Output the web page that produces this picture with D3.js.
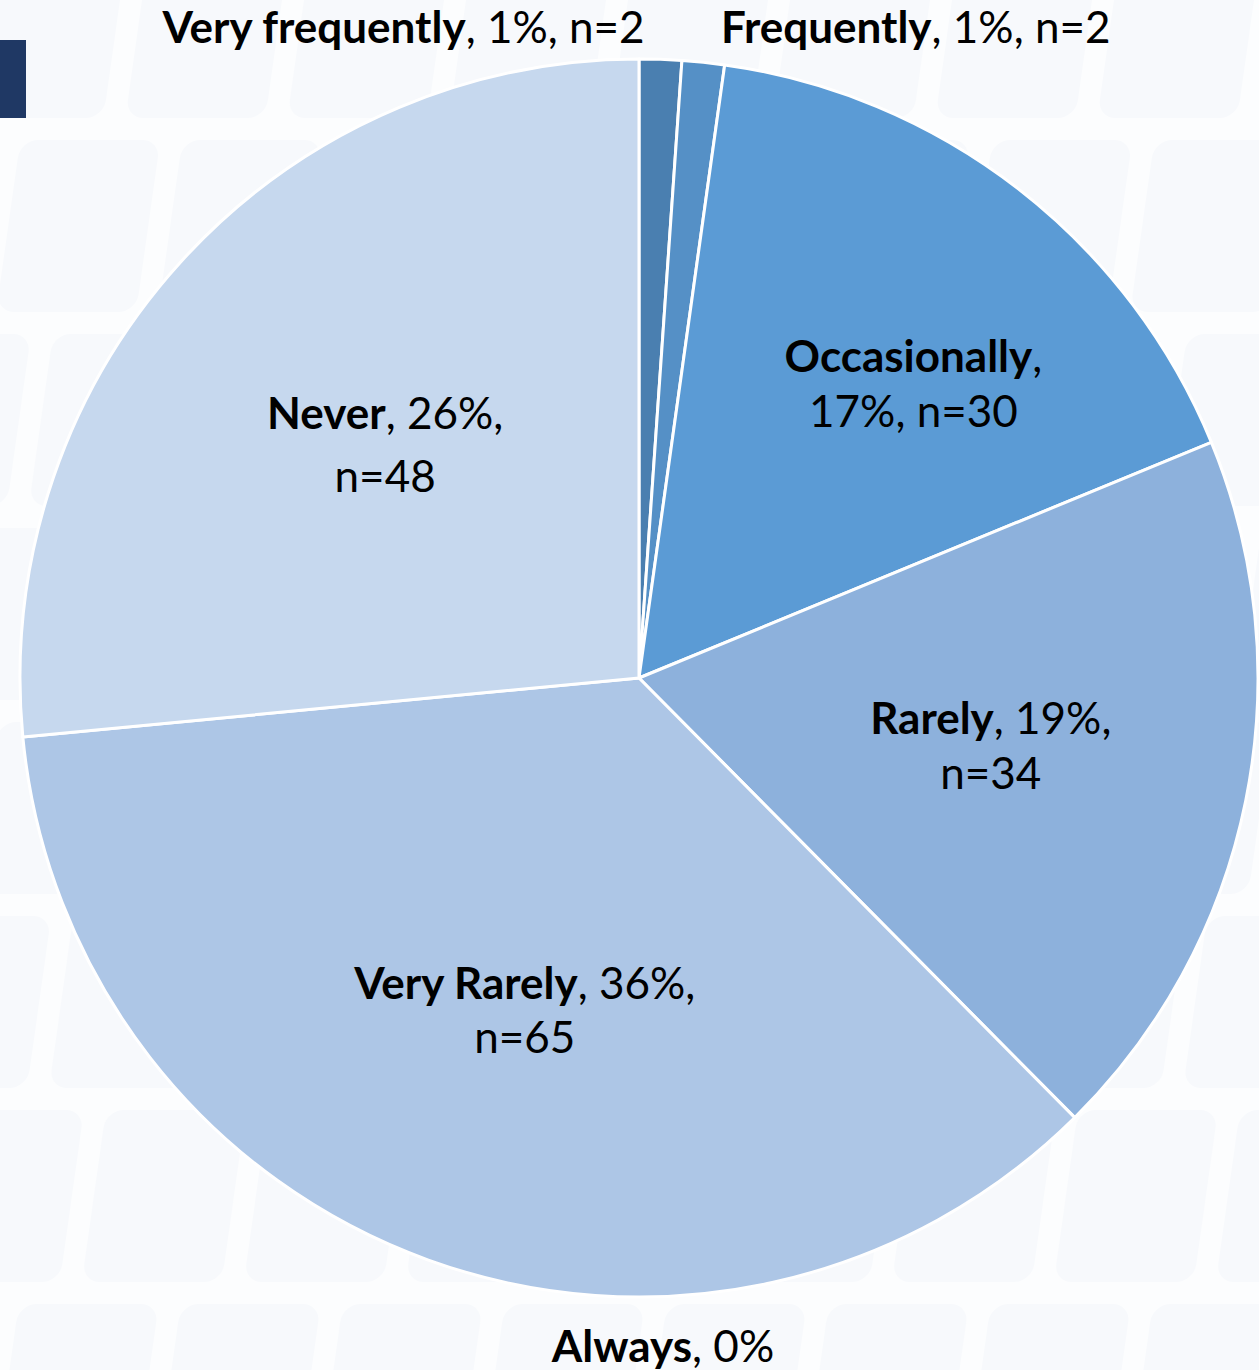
<!DOCTYPE html>
<html>
<head>
<meta charset="utf-8">
<script src="https://cdn.jsdelivr.net/npm/d3@7"></script>
<style>
  html, body { margin: 0; padding: 0; background: #fbfcfe; }
  svg { display: block; }
</style>
</head>
<body>
<svg id="chart" width="1259" height="1370"></svg>
<script>
// Survey answers, in the order the slices run clockwise from 12 o'clock
const categories = ["Always", "Very frequently", "Frequently", "Occasionally", "Rarely", "Very Rarely", "Never"];
const counts     = [0, 2, 2, 30, 34, 65, 48];
const percents   = [0, 1, 1, 17, 19, 36, 26];
const sliceColors = ["#3f6e9e", "#4a7fb0", "#5590c6", "#5b9bd5", "#8db1dc", "#adc6e6", "#c6d8ee"];

// Where each data label sits: angle shift (deg) from the slice's mid-angle,
// distance as a fraction of the radius, how many parts go on the first line.
const labelLayout = {
  "Always":          { absAngle: 180, r: 1.081, anchor: "middle", dx: 24, split: 2, gap: 0 },
  "Very frequently": { shift: 0, r: 1.05, anchor: "end",    dx: -17, split: 3, gap: 0 },
  "Frequently":      { shift: 0, r: 1.055, anchor: "start", dx: 14,  split: 3, gap: 0 },
  "Occasionally":    { shift: 5.3,  r: 0.649, anchor: "middle", dx: 0, split: 1, gap: 55 },
  "Rarely":          { shift: -0.4, r: 0.579, anchor: "middle", dx: 0, split: 2, gap: 55 },
  "Very Rarely":     { shift: -1.0, r: 0.570, anchor: "middle", dx: 0, split: 2, gap: 54 },
  "Never":           { shift: 0.2,  r: 0.556, anchor: "middle", dx: 0, split: 2, gap: 63 }
};

const W = 1259, H = 1370;
const cx = 639, cy = 678, R = 619;
const fontFamily = "Lato, 'Open Sans', 'Noto Sans', sans-serif";
const fontSize = 44;

const svg = d3.select("#chart");

// Faint tiled backdrop
const bg = svg.append("g");
bg.append("rect").attr("width", W).attr("height", H).attr("fill", "#fcfdfe");
const tiles = bg.append("g").attr("transform", "skewX(-8)");
const tileW = 140, tileH = 172, tileGap = 22;
for (let row = -1; row * (tileH + tileGap) < H + 40; row++) {
  for (let col = -1; col * (tileW + tileGap) < W + 300; col++) {
    tiles.append("rect")
      .attr("x", col * (tileW + tileGap) + 40 + (row % 2) * 60)
      .attr("y", row * (tileH + tileGap) + 140)
      .attr("width", tileW).attr("height", tileH)
      .attr("rx", 18)
      .attr("fill", "#f7f9fc");
  }
}

// Corner accent bar
svg.append("rect")
  .attr("x", 0).attr("y", 40).attr("width", 26).attr("height", 78)
  .attr("fill", "#1f3864");

const rows = categories.map((c, i) => ({ name: c, count: counts[i], pct: percents[i], color: sliceColors[i] }));

const pie = d3.pie().sort(null).value(d => d.count);
const arcs = pie(rows);
const arc = d3.arc().innerRadius(0).outerRadius(R);

const g = svg.append("g").attr("transform", `translate(${cx},${cy})`);

g.selectAll("path.slice")
  .data(arcs)
  .join("path")
  .attr("class", "slice")
  .attr("d", arc)
  .attr("fill", d => d.data.color)
  .attr("stroke", "#ffffff")
  .attr("stroke-width", 3)
  .attr("stroke-linejoin", "round");

// Data labels
const capHalf = fontSize * 0.33;
arcs.forEach(d => {
  const lay = labelLayout[d.data.name];
  const mid = (d.startAngle + d.endAngle) / 2;
  const ang = lay.absAngle !== undefined ? lay.absAngle * Math.PI / 180 : mid + lay.shift * Math.PI / 180;
  const px = Math.sin(ang) * R * lay.r + lay.dx;
  const py = -Math.cos(ang) * R * lay.r;

  const parts = [
    { t: d.data.name, bold: true },
    { t: d.data.pct + "%", bold: false }
  ];
  if (d.data.count > 0) parts.push({ t: "n=" + d.data.count, bold: false });

  const lines = [parts.slice(0, lay.split), parts.slice(lay.split)].filter(l => l.length);
  const n = lines.length;

  const text = g.append("text")
    .attr("text-anchor", lay.anchor)
    .attr("font-family", fontFamily)
    .attr("font-size", fontSize)
    .attr("fill", "#000");

  lines.forEach((line, li) => {
    const by = py - (n - 1) * lay.gap / 2 + li * lay.gap + capHalf;
    const isLast = li === n - 1;
    line.forEach((p, pi) => {
      const ts = text.append("tspan");
      if (pi === 0) ts.attr("x", px).attr("y", by);
      const sep = pi < line.length - 1 || !isLast ? "," : "";
      ts.append("tspan").attr("font-weight", p.bold ? 700 : 400).text(p.t);
      if (sep) ts.append("tspan").attr("font-weight", 400).text(sep + (pi < line.length - 1 ? " " : ""));
    });
  });
});
</script>
</body>
</html>
